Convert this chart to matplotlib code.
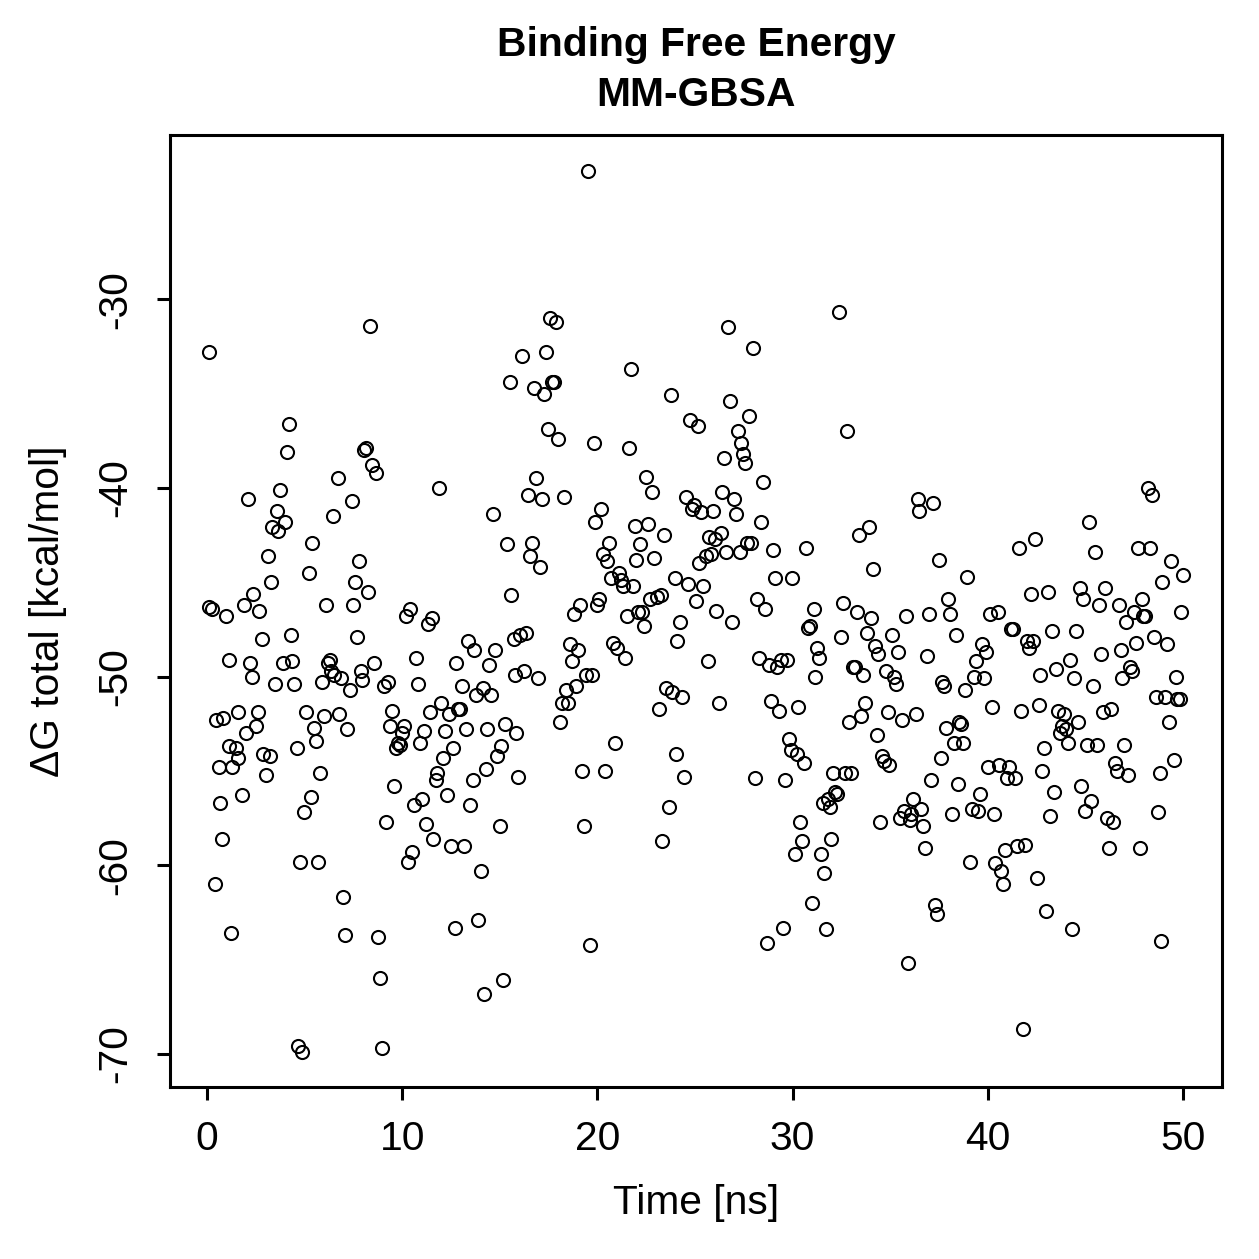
import matplotlib
matplotlib.use("Agg")
import matplotlib.pyplot as plt

plt.rcParams['font.family'] = ['Liberation Sans', 'DejaVu Sans']

time_ns = [
    0.1, 0.1, 0.25, 0.4, 0.45, 0.6, 0.65, 0.75, 0.8, 0.95, 1.1, 1.1, 1.25, 1.3, 1.5, 1.6, 1.6, 1.8, 1.9, 2.0,
    2.1, 2.2, 2.3, 2.35, 2.5, 2.6, 2.65, 2.8, 2.85, 3.0, 3.1, 3.2, 3.3, 3.35, 3.5, 3.6, 3.65, 3.75, 3.9, 4.0,
    4.1, 4.2, 4.3, 4.35, 4.45, 4.6, 4.65, 4.75, 4.85, 4.95, 5.05, 5.2, 5.3, 5.4, 5.5, 5.6, 5.7, 5.8, 5.9, 6.0,
    6.1, 6.2, 6.3, 6.35, 6.45, 6.5, 6.7, 6.75, 6.85, 6.95, 7.05, 7.15, 7.3, 7.4, 7.5, 7.6, 7.7, 7.8, 7.9, 7.95,
    8.05, 8.15, 8.25, 8.35, 8.45, 8.55, 8.65, 8.75, 8.85, 8.95, 9.05, 9.15, 9.25, 9.35, 9.45, 9.6, 9.7, 9.8, 9.9, 10.0,
    10.1, 10.2, 10.3, 10.4, 10.5, 10.6, 10.7, 10.8, 10.9, 11.0, 11.1, 11.2, 11.3, 11.4, 11.5, 11.6, 11.75, 11.8, 11.9, 12.0,
    12.1, 12.2, 12.3, 12.4, 12.5, 12.6, 12.7, 12.75, 12.85, 12.95, 13.05, 13.15, 13.25, 13.35, 13.45, 13.6, 13.7, 13.8, 13.9, 14.05,
    14.15, 14.2, 14.3, 14.35, 14.45, 14.55, 14.65, 14.75, 14.85, 15.0, 15.05, 15.15, 15.25, 15.35, 15.5, 15.55, 15.7, 15.8, 15.85, 15.95,
    16.05, 16.15, 16.25, 16.35, 16.45, 16.55, 16.65, 16.75, 16.85, 16.95, 17.05, 17.15, 17.25, 17.35, 17.45, 17.55, 17.65, 17.8, 17.9, 18.0,
    18.1, 18.2, 18.3, 18.4, 18.5, 18.6, 18.7, 18.8, 18.9, 19.0, 19.1, 19.2, 19.3, 19.4, 19.5, 19.6, 19.7, 19.8, 19.9, 20.0,
    20.1, 20.2, 20.3, 20.4, 20.5, 20.6, 20.7, 20.8, 20.9, 21.0, 21.1, 21.2, 21.3, 21.4, 21.5, 21.6, 21.7, 21.8, 21.9, 22.0,
    22.1, 22.2, 22.3, 22.4, 22.5, 22.6, 22.7, 22.8, 22.9, 23.05, 23.15, 23.25, 23.3, 23.4, 23.5, 23.65, 23.75, 23.8, 23.95, 24.0,
    24.1, 24.25, 24.35, 24.45, 24.55, 24.65, 24.75, 24.85, 24.95, 25.05, 25.15, 25.2, 25.3, 25.4, 25.55, 25.65, 25.7, 25.8, 25.9, 26.0,
    26.1, 26.25, 26.35, 26.4, 26.5, 26.6, 26.7, 26.8, 26.9, 27.0, 27.1, 27.2, 27.3, 27.35, 27.45, 27.55, 27.65, 27.75, 27.85, 27.95,
    28.05, 28.15, 28.3, 28.4, 28.5, 28.6, 28.7, 28.8, 28.9, 29.0, 29.1, 29.2, 29.3, 29.4, 29.5, 29.6, 29.7, 29.8, 29.9, 29.95,
    30.1, 30.2, 30.3, 30.4, 30.5, 30.6, 30.7, 30.8, 30.9, 31.0, 31.1, 31.15, 31.25, 31.35, 31.45, 31.55, 31.6, 31.7, 31.8, 31.9,
    31.95, 32.05, 32.15, 32.25, 32.4, 32.5, 32.6, 32.7, 32.8, 32.9, 33.0, 33.1, 33.2, 33.3, 33.4, 33.5, 33.6, 33.7, 33.8, 33.9,
    34.0, 34.1, 34.2, 34.3, 34.4, 34.5, 34.6, 34.7, 34.8, 34.9, 34.95, 35.1, 35.2, 35.3, 35.4, 35.5, 35.6, 35.7, 35.8, 35.9,
    36.0, 36.05, 36.15, 36.3, 36.4, 36.5, 36.6, 36.7, 36.8, 36.9, 37.0, 37.1, 37.2, 37.3, 37.4, 37.5, 37.6, 37.65, 37.75, 37.85,
    37.95, 38.05, 38.15, 38.25, 38.35, 38.45, 38.55, 38.65, 38.75, 38.85, 38.95, 39.1, 39.2, 39.3, 39.4, 39.5, 39.6, 39.7, 39.8, 39.9,
    40.0, 40.1, 40.2, 40.3, 40.35, 40.5, 40.6, 40.7, 40.8, 40.9, 41.0, 41.1, 41.2, 41.3, 41.4, 41.5, 41.6, 41.7, 41.8, 41.9,
    42.0, 42.1, 42.2, 42.3, 42.4, 42.5, 42.6, 42.7, 42.8, 42.9, 43.0, 43.1, 43.2, 43.3, 43.4, 43.5, 43.6, 43.7, 43.8, 43.9,
    44.0, 44.1, 44.2, 44.3, 44.4, 44.5, 44.6, 44.7, 44.8, 44.9, 45.0, 45.1, 45.2, 45.3, 45.4, 45.5, 45.6, 45.7, 45.8, 45.9,
    46.0, 46.1, 46.2, 46.3, 46.4, 46.5, 46.6, 46.7, 46.8, 46.9, 47.0, 47.1, 47.2, 47.3, 47.4, 47.5, 47.6, 47.7, 47.8, 47.9,
    47.95, 48.05, 48.2, 48.3, 48.4, 48.5, 48.6, 48.7, 48.8, 48.9, 48.95, 49.1, 49.2, 49.3, 49.4, 49.55, 49.65, 49.7, 49.85, 49.9,
    50.0,
]

delta_g = [
    -32.8, -46.3, -46.4, -61.0, -52.3, -54.8, -56.7, -58.6, -52.2, -46.8, -49.1, -53.7, -63.6, -54.8, -53.8, -51.9, -54.3, -56.3, -46.2, -53.0,
    -40.6, -49.3, -50.0, -45.6, -52.6, -51.9, -46.5, -48.0, -54.1, -55.2, -43.6, -54.2, -45.0, -42.1, -50.4, -41.2, -42.3, -40.1, -49.3, -41.8,
    -38.1, -36.6, -47.8, -49.2, -50.4, -53.8, -69.6, -59.8, -69.9, -57.2, -51.9, -44.5, -56.4, -42.9, -52.7, -53.4, -59.8, -55.1, -50.3, -52.1,
    -46.2, -49.3, -49.1, -49.7, -41.5, -49.9, -39.5, -52.0, -50.1, -61.7, -63.7, -52.8, -50.7, -40.7, -46.2, -45.0, -47.9, -43.9, -49.7, -50.2,
    -38.0, -37.9, -45.5, -31.4, -38.8, -49.3, -39.2, -63.8, -66.0, -69.7, -50.5, -57.7, -50.3, -52.6, -51.8, -55.8, -53.8, -53.5, -53.6, -53.0,
    -52.6, -46.8, -59.8, -46.4, -59.3, -56.8, -49.0, -50.4, -53.5, -56.5, -52.9, -57.8, -47.2, -51.9, -46.9, -58.6, -55.5, -55.1, -40.0, -51.4,
    -54.3, -52.9, -56.3, -52.0, -59.0, -53.8, -63.3, -49.3, -51.7, -51.7, -50.5, -59.0, -52.8, -48.1, -56.8, -55.5, -48.6, -51.0, -62.9, -60.3,
    -50.6, -66.8, -54.9, -52.8, -49.4, -51.0, -41.4, -48.6, -54.2, -57.9, -53.7, -66.1, -52.5, -43.0, -34.4, -45.7, -48.0, -49.9, -53.0, -55.3,
    -47.8, -33.0, -49.7, -47.7, -40.4, -43.6, -42.9, -34.7, -39.5, -50.1, -44.2, -40.6, -35.0, -32.8, -36.9, -31.0, -34.4, -34.4, -31.2, -37.4,
    -52.4, -51.4, -40.5, -50.7, -51.4, -48.3, -49.2, -46.7, -50.5, -48.6, -46.2, -55.0, -57.9, -49.9, -23.2, -64.2, -49.9, -37.6, -41.8, -46.2,
    -45.9, -41.1, -43.5, -55.0, -43.9, -42.9, -44.8, -48.2, -53.5, -48.5, -44.5, -44.9, -45.2, -49.0, -46.8, -37.9, -33.7, -45.2, -42.0, -43.8,
    -46.6, -43.0, -46.6, -47.3, -39.4, -41.9, -45.9, -40.2, -43.7, -45.8, -51.7, -45.7, -58.7, -42.5, -50.6, -56.9, -35.1, -50.8, -44.8, -54.1,
    -48.1, -47.1, -51.1, -55.3, -40.5, -45.1, -36.4, -41.1, -40.9, -46.0, -36.7, -44.0, -41.3, -45.2, -43.6, -49.2, -42.6, -43.5, -41.2, -42.7,
    -46.5, -51.4, -42.4, -40.2, -38.4, -43.4, -31.5, -35.4, -47.1, -40.6, -41.4, -37.0, -43.4, -37.6, -38.2, -38.7, -42.9, -36.2, -42.9, -32.6,
    -55.4, -45.9, -49.0, -41.8, -39.7, -46.4, -64.1, -49.4, -51.3, -43.3, -44.8, -49.5, -51.8, -49.1, -63.3, -55.5, -49.1, -53.3, -53.9, -44.8,
    -59.4, -54.1, -51.6, -57.7, -58.7, -54.6, -43.2, -47.4, -47.3, -62.0, -46.4, -50.0, -48.5, -49.0, -59.4, -56.7, -60.4, -63.4, -56.5, -56.9,
    -58.6, -55.1, -56.1, -56.2, -30.7, -47.9, -46.1, -55.1, -37.0, -52.4, -55.1, -49.5, -49.5, -46.6, -42.5, -52.1, -49.9, -51.4, -47.7, -42.1,
    -46.9, -44.3, -48.4, -53.1, -48.8, -57.7, -54.2, -54.5, -49.7, -51.9, -54.7, -47.8, -50.0, -50.4, -48.7, -57.5, -52.3, -57.1, -46.8, -65.2,
    -57.6, -57.3, -56.5, -52.0, -40.6, -41.2, -57.0, -57.9, -59.1, -48.9, -46.7, -55.5, -40.8, -62.1, -62.6, -43.8, -54.3, -50.3, -50.5, -52.7,
    -45.9, -46.7, -57.3, -53.5, -47.8, -55.7, -52.4, -52.5, -53.5, -50.7, -44.7, -59.8, -57.0, -50.0, -49.2, -57.1, -56.2, -48.3, -50.1, -48.7,
    -54.8, -46.7, -51.6, -57.3, -59.9, -46.6, -54.7, -60.3, -61.0, -59.2, -55.4, -54.8, -47.5, -47.5, -55.4, -59.0, -43.2, -51.8, -68.7, -58.9,
    -48.1, -48.5, -45.6, -48.1, -42.7, -60.7, -51.5, -49.9, -55.0, -53.8, -62.4, -45.5, -57.4, -47.6, -56.1, -49.6, -51.8, -53.0, -52.6, -52.0,
    -52.8, -53.5, -49.1, -63.4, -50.1, -47.6, -52.4, -45.3, -55.8, -45.9, -57.1, -53.6, -41.8, -56.6, -50.5, -43.4, -53.6, -46.2, -48.8, -51.9,
    -45.3, -57.5, -59.1, -51.7, -57.7, -54.6, -55.0, -46.2, -48.6, -50.1, -53.6, -47.1, -55.2, -49.5, -49.7, -46.6, -48.2, -43.2, -59.1, -45.9,
    -46.8, -46.8, -40.0, -43.2, -40.4, -47.9, -51.1, -57.2, -55.1, -64.0, -45.0, -51.1, -48.3, -52.4, -43.9, -54.4, -50.0, -51.2, -51.2, -46.6,
    -44.6,
]

x_ticks = [0, 10, 20, 30, 40, 50]
y_ticks = [-70, -60, -50, -40, -30]

W, H = 1259, 1259
dpi = 200
fig = plt.figure(figsize=(W / dpi, H / dpi), dpi=dpi)
ax = fig.add_axes([170 / W, 1 - 1087 / H, (1222 - 170) / W, (1087 - 135) / H])

ax.plot(time_ns, delta_g, linestyle='none', marker='o', markersize=4.7,
        markerfacecolor='none', markeredgecolor='black', markeredgewidth=0.75)

ax.set_xlim(-1.9, 52.0)
ax.set_ylim(-71.75, -21.3)
ax.set_xticks(x_ticks)
ax.set_yticks(y_ticks)
ax.set_xticklabels([str(v) for v in x_ticks])
ax.set_yticklabels([str(v) for v in y_ticks], rotation=90, va='center')

for s in ax.spines.values():
    s.set_linewidth(1.1)

ax.tick_params(direction='out', length=4.7, width=1.1, labelsize=14.7, pad=7)
ax.tick_params(axis='y', pad=8)

ax.set_xlabel('Time [ns]', fontsize=14.7)
ax.xaxis.set_label_coords(0.5, -0.102)
ax.set_ylabel('ΔG total [kcal/mol]', fontsize=14.7)
ax.yaxis.set_label_coords(-0.098, 0.5)

fig.text(696 / W, 1 - 45 / H, 'Binding Free Energy', ha='center', va='center',
         fontsize=14.7, fontweight='bold')
fig.text(696 / W, 1 - 95 / H, 'MM-GBSA', ha='center', va='center',
         fontsize=14.7, fontweight='bold')

fig.savefig('out.png', dpi=dpi)
